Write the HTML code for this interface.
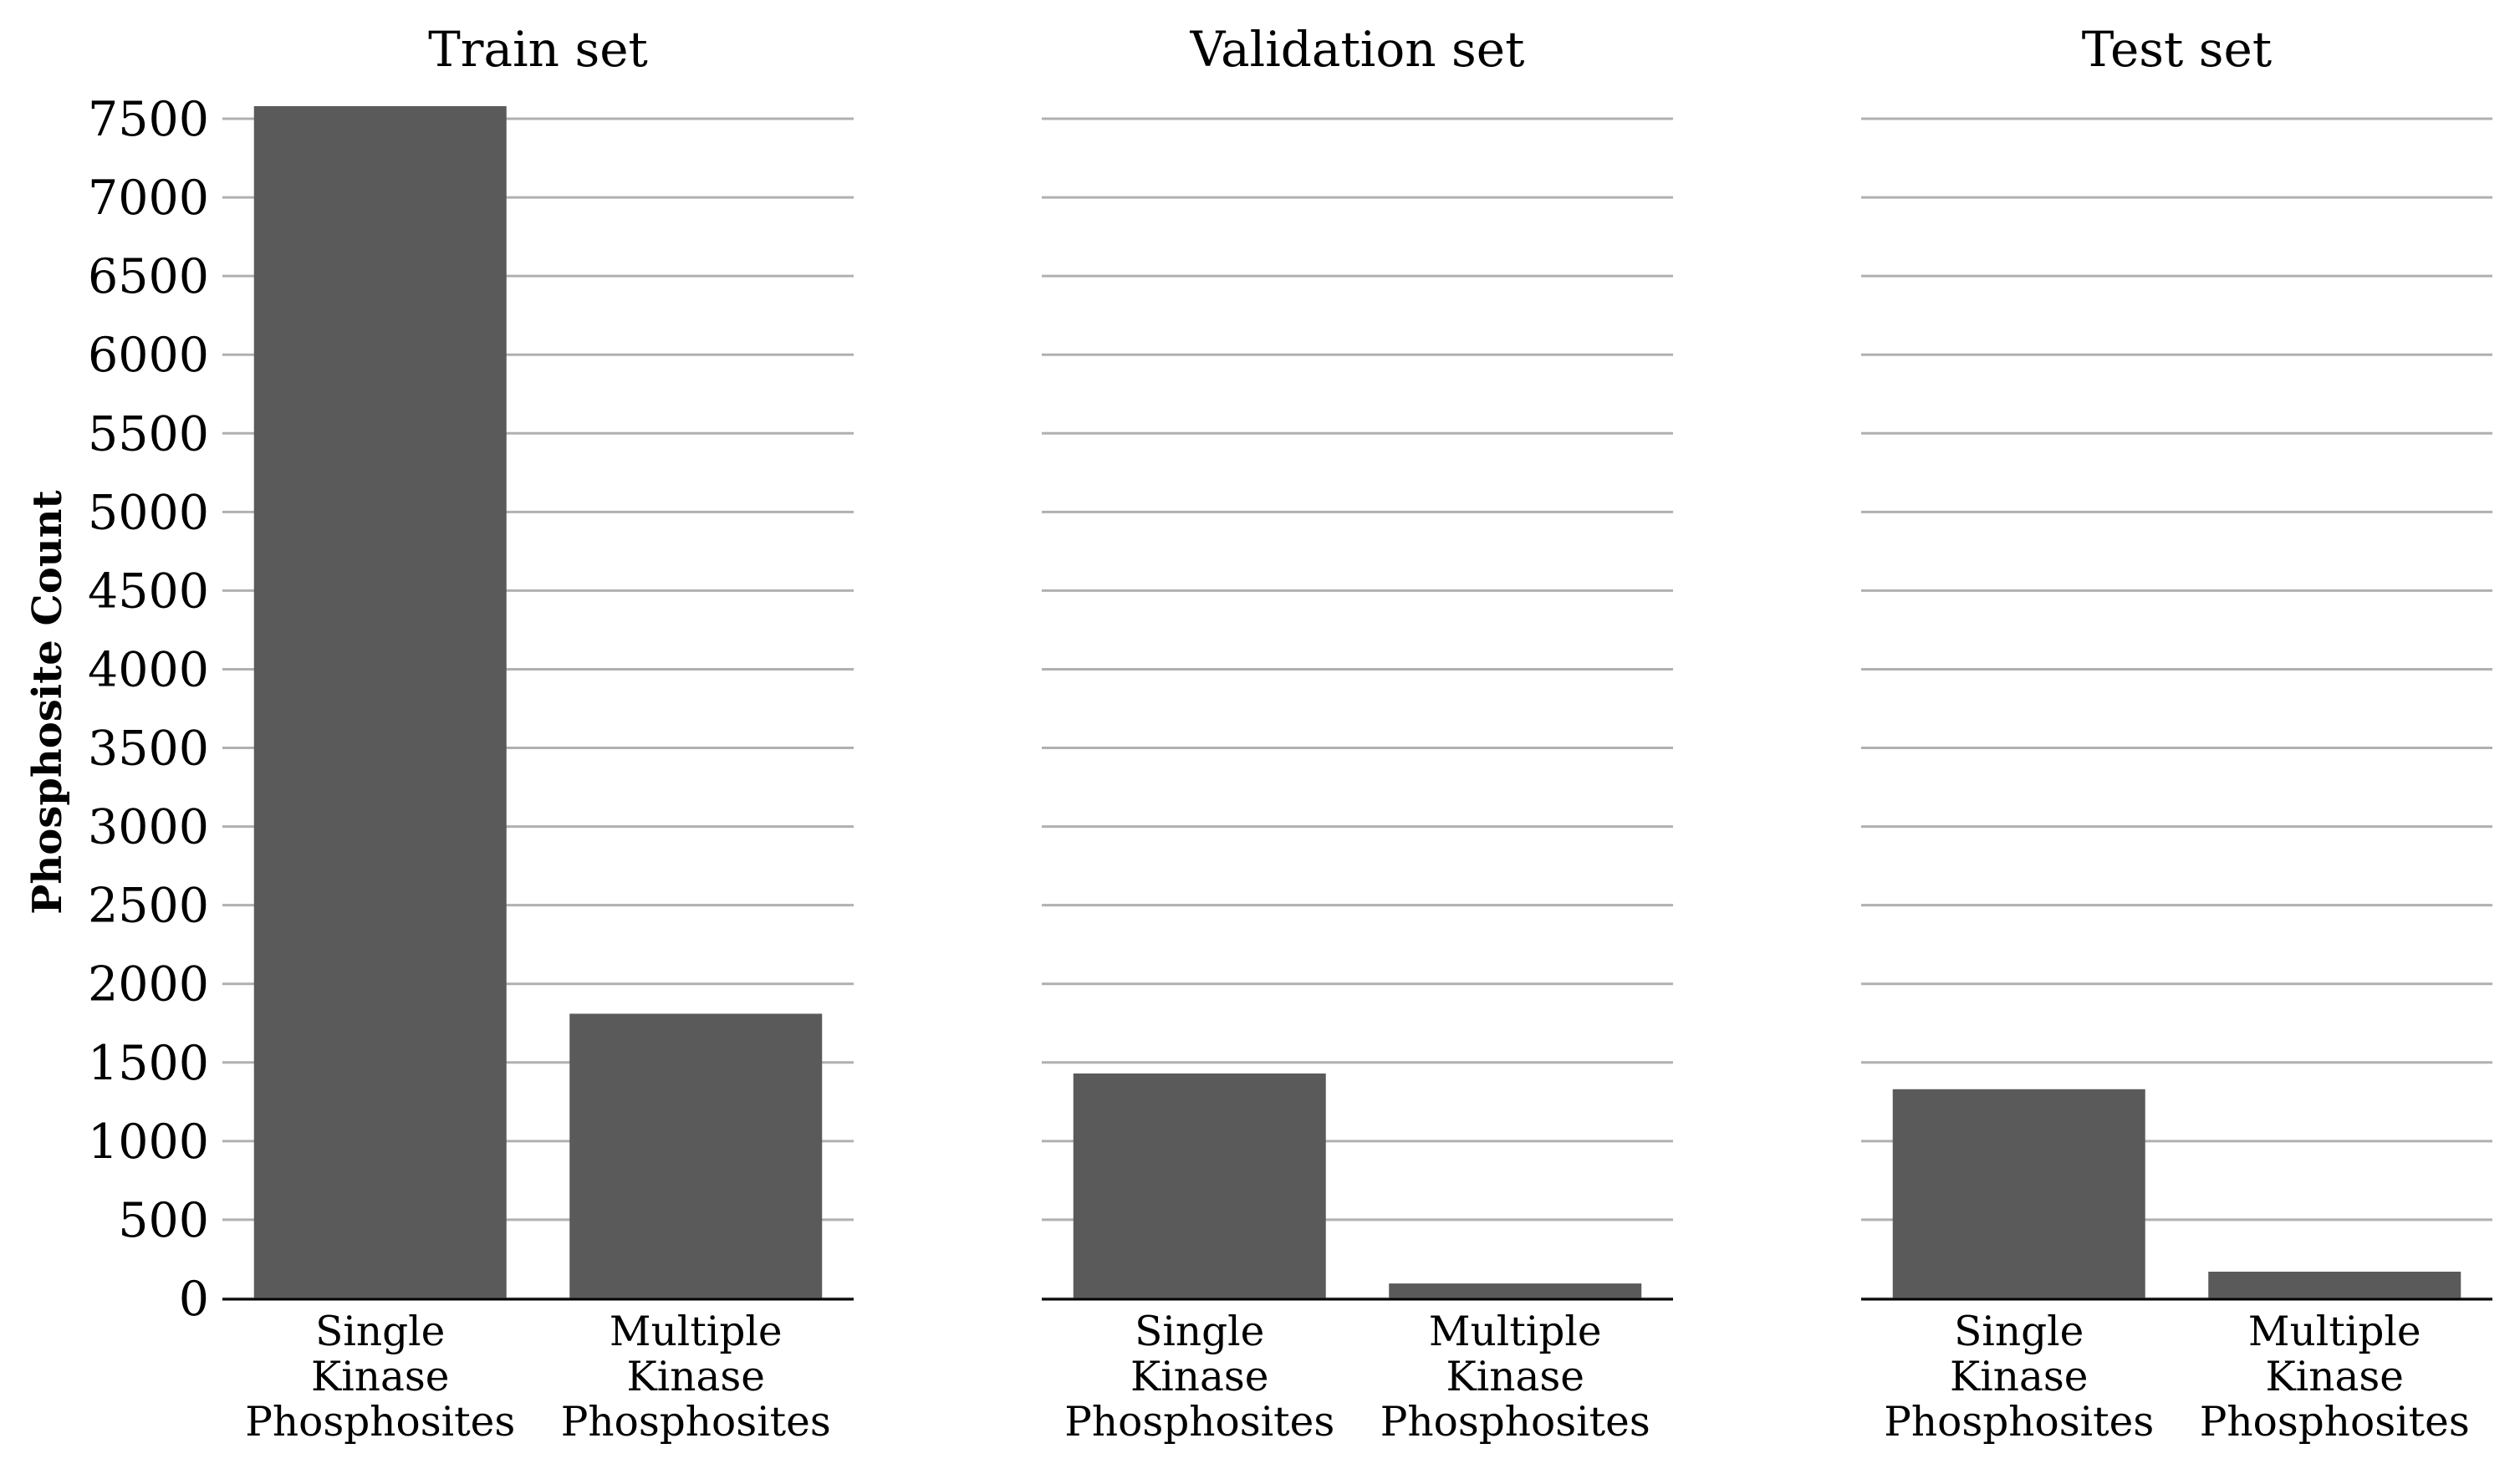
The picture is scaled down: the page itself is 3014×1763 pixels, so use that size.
<!DOCTYPE html>
<html><head><meta charset="utf-8"><style>
html,body{margin:0;padding:0;background:#fff;}
svg{display:block;font-family:"DejaVu Serif","Liberation Serif",serif;}
</style></head><body>
<svg id="chart" width="3014" height="1763" viewBox="0 0 3014 1763" xmlns="http://www.w3.org/2000/svg">
<text x="0" y="0" transform="translate(73,840) rotate(-90)" text-anchor="middle" font-size="48" font-weight="bold">Phosphosite Count</text>
</svg>
<script>
const panels = ["Train set","Validation set","Test set"];
const categories = [["Single","Kinase","Phosphosites"],["Multiple","Kinase","Phosphosites"]];
const singleValues = [7580, 1430, 1330];
const multipleValues = [1810, 95, 170];
const yTicks = [0,500,1000,1500,2000,2500,3000,3500,4000,4500,5000,5500,6000,6500,7000,7500];

const svg = document.getElementById('chart');
const NS = 'http://www.w3.org/2000/svg';
const panelLeft = [266, 1246, 2226];
const panelW = 755;
const y0 = 1553, yTop = 142, yMaxVal = 7500;
function yScale(v){ return y0 - (v / yMaxVal) * (y0 - yTop); }
function xScale(p, i){ return panelLeft[p] + (i + 0.5) * panelW / 2; }
function mk(tag, attrs){ const e = document.createElementNS(NS, tag); for (const k in attrs) e.setAttribute(k, attrs[k]); svg.appendChild(e); return e; }

panels.forEach((title, p) => {
  yTicks.forEach(t => {
    const g = mk('line', {x1: panelLeft[p], x2: panelLeft[p] + panelW, y1: yScale(t), y2: yScale(t), stroke: '#b0b0b0', 'stroke-width': 3});
    
    
    if (p === 0) {
      const lb = mk('text', {x: 250, y: yScale(t) + 20, 'text-anchor': 'end', 'font-size': 57});
      lb.textContent = String(t);
      
      
    }
  });
  const vals = [singleValues[p], multipleValues[p]];
  vals.forEach((v, i) => {
    const bw = panelW / 2 * 0.8;
    const r = mk('rect', {x: xScale(p, i) - bw / 2, y: yScale(v), width: bw, height: y0 - yScale(v), fill: '#5a5a5a'});
    
    
    categories[i].forEach((w, li) => {
      const t = mk('text', {x: xScale(p, i), y: 1609 + li * 54, 'text-anchor': 'middle', 'font-size': 48.5});
      t.textContent = w;
      
      
    });
  });
  const ax = mk('line', {x1: panelLeft[p], x2: panelLeft[p] + panelW, y1: y0 + 1, y2: y0 + 1, stroke: '#000', 'stroke-width': 3});
  
  
  const tt = mk('text', {x: panelLeft[p] + panelW / 2, y: 79, 'text-anchor': 'middle', 'font-size': 58});
  tt.textContent = title;
  
  
});
</script>
</body></html>
